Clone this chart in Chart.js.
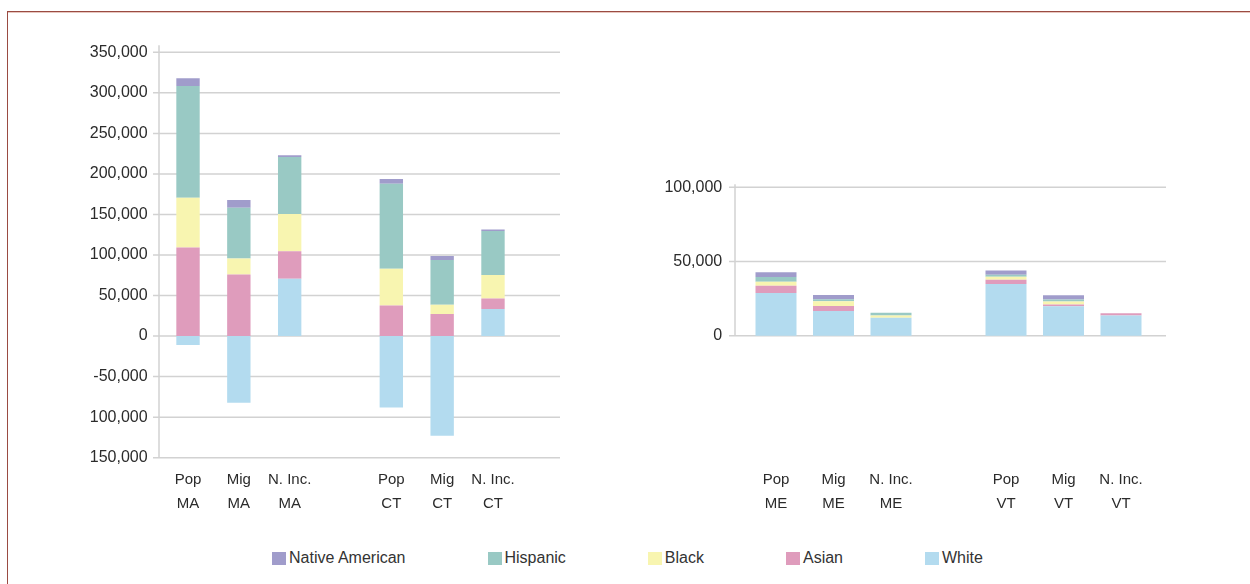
<!DOCTYPE html>
<html>
<head>
<meta charset="utf-8">
<title>Population change by race</title>
<script src="https://cdn.jsdelivr.net/npm/chart.js@4.4.1/dist/chart.umd.min.js"></script>
<style>
  html, body { margin: 0; background: #fff; overflow: hidden; font-family: "Liberation Sans", Arial, sans-serif; }
  .frame {
    position: absolute; left: 7px; top: 11px; width: 1300px; height: 640px;
    border: 1px solid #9a4b42; box-shadow: inset 0 1px 0 #e8c6bf;
  }
  .box { position: absolute; top: 0; height: 540px; }
  #leftBox { left: 0; width: 620px; }
  #rightBox { left: 620px; width: 630px; }
  #legend {
    position: absolute; left: 272px; top: 549px;
    display: flex; align-items: center; gap: 82px;
    font-size: 16px; color: #333;
  }
  #legend .item { display: flex; align-items: center; }
  #legend .swatch { width: 14px; height: 13px; margin-right: 3px; }
</style>
</head>
<body>
<div class="frame"></div>
<div class="box" id="leftBox"><canvas id="leftChart"></canvas></div>
<div class="box" id="rightBox"><canvas id="rightChart"></canvas></div>
<div id="legend"></div>

<script>
  // --- data: Massachusetts / Connecticut ---
  const leftLabels = [["Pop", "MA"], ["Mig", "MA"], ["N. Inc.", "MA"], "", ["Pop", "CT"], ["Mig", "CT"], ["N. Inc.", "CT"]];
  const leftWhite = [-11100, -82300, 70700, null, -88000, -123000, 33300];
  const leftAsian = [109400, 76100, 33800, null, 37800, 27100, 13200];
  const leftBlack = [61200, 19700, 46000, null, 45200, 11500, 28800];
  const leftHispanic = [137800, 62500, 70300, null, 104900, 55200, 54200];
  const leftNative = [9500, 9500, 2100, null, 5800, 4900, 2100];
  const leftTickValues = [350000, 300000, 250000, 200000, 150000, 100000, 50000, 0, -50000, -100000, -150000];
  const leftTickLabels = ["350,000", "300,000", "250,000", "200,000", "150,000", "100,000", "50,000", "0", "-50,000", "100,000", "150,000"];

  // --- data: Maine / Vermont ---
  const rightLabels = [["Pop", "ME"], ["Mig", "ME"], ["N. Inc.", "ME"], "", ["Pop", "VT"], ["Mig", "VT"], ["N. Inc.", "VT"]];
  const rightWhite = [28800, 16600, 12100, null, 34800, 19800, 13700];
  const rightAsian = [4900, 3400, 0, null, 2900, 1300, 1500];
  const rightBlack = [2700, 3200, 1600, null, 2000, 2000, 0];
  const rightHispanic = [3200, 1300, 1800, null, 1300, 1300, 0];
  const rightNative = [3100, 2900, 0, null, 2900, 2900, 0];
  const rightTickValues = [100000, 50000, 0];
  const rightTickLabels = ["100,000", "50,000", "0"];

  const seriesNames = ["White", "Asian", "Black", "Hispanic", "Native American"];
  const seriesColors = ["#b3dbef", "#df9cbc", "#f8f5b0", "#99c9c4", "#a09ccb"];

  const fontFamily = '"Liberation Sans", Arial, sans-serif';

  // draws the horizontal grid lines (past the plot edges) and the left axis line,
  // the axis line stops at the lowest listed tick
  const axisGrid = {
    id: "axisGrid",
    beforeDatasetsDraw(chart, args, opts) {
      const { ctx, chartArea } = chart;
      const yScale = chart.scales.y;
      const axisX = chartArea.left - opts.axisGap;
      let lowest = chartArea.top;
      ctx.save();
      ctx.strokeStyle = "#d2d2d2";
      ctx.lineWidth = 1.5;
      yScale.ticks.forEach((t) => {
        const py = yScale.getPixelForValue(t.value);
        lowest = Math.max(lowest, py);
        ctx.beginPath();
        ctx.moveTo(axisX - opts.tickLen, py);
        ctx.lineTo(chartArea.right + opts.extendRight, py);
        ctx.stroke();
      });
      ctx.beginPath();
      ctx.moveTo(axisX, chartArea.top - opts.extendTop);
      ctx.lineTo(axisX, lowest);
      ctx.stroke();
      ctx.restore();
    },
  };

  function makeDatasets(values, barPct) {
    return values.map((data, i) => ({
      label: seriesNames[i],
      data: data,
      backgroundColor: seriesColors[i],
      borderWidth: 0,
      barPercentage: barPct,
      categoryPercentage: 1,
    }));
  }

  function makeChart(canvasId, cfg) {
    const ctx = document.getElementById(canvasId).getContext("2d");
    return new Chart(ctx, {
      type: "bar",
      data: { labels: cfg.labels, datasets: makeDatasets(cfg.values, cfg.barPct) },
      plugins: [axisGrid],
      options: {
        responsive: true,
        maintainAspectRatio: false,
        animation: false,
        layout: { padding: cfg.padding },
        plugins: {
          legend: { display: false },
          tooltip: { enabled: false },
          axisGrid: cfg.grid,
        },
        scales: {
          x: {
            stacked: true,
            grid: { display: false, drawTicks: false },
            border: { display: false },
            afterFit: (scale) => { scale.height = 82.3; },
            ticks: {
              padding: 11,
              autoSkip: false,
              maxRotation: 0,
              color: "#2b2b2b",
              font: { family: fontFamily, size: 15, lineHeight: 1.55 },
            },
          },
          y: {
            stacked: true,
            min: cfg.min,
            max: cfg.max,
            grid: { display: false, drawTicks: false },
            border: { display: false },
            afterFit: (scale) => { scale.width = cfg.yWidth; },
            afterBuildTicks: (scale) => {
              scale.ticks = cfg.tickValues.map((v) => ({ value: v }));
            },
            ticks: {
              padding: cfg.yPad,
              color: "#2b2b2b",
              font: { family: fontFamily, size: 16 },
              callback: (value) => cfg.tickLabels[cfg.tickValues.indexOf(value)],
            },
          },
        },
      },
    });
  }

  makeChart("leftChart", {
    labels: leftLabels,
    values: [leftWhite, leftAsian, leftBlack, leftHispanic, leftNative],
    barPct: 0.46,
    min: -150000,
    max: 350000,
    tickValues: leftTickValues,
    tickLabels: leftTickLabels,
    padding: { left: 0, right: 101.6, top: 52.3, bottom: 0 },
    yWidth: 162.6,
    yPad: 15,
    grid: { axisGap: 3.6, tickLen: 6, extendRight: 41.6, extendTop: 7 },
  });

  // the value range runs below zero only so that the category labels
  // line up with the left panel; no ticks are listed there
  makeChart("rightChart", {
    labels: rightLabels,
    values: [rightWhite, rightAsian, rightBlack, rightHispanic, rightNative],
    barPct: 0.713,
    min: -82200,
    max: 100000,
    tickValues: rightTickValues,
    tickLabels: rightTickLabels,
    padding: { left: 0, right: 100.25, top: 187.3, bottom: 0 },
    yWidth: 127.25,
    yPad: 25,
    grid: { axisGap: 12.25, tickLen: 6, extendRight: 16.25, extendTop: 3 },
  });

  // shared legend, top of the stack first
  const legend = document.getElementById("legend");
  for (let i = seriesNames.length - 1; i >= 0; i--) {
    const item = document.createElement("div");
    item.className = "item";
    item.innerHTML = '<span class="swatch" style="background:' + seriesColors[i] + '"></span>' + seriesNames[i];
    legend.appendChild(item);
  }
</script>
</body>
</html>
